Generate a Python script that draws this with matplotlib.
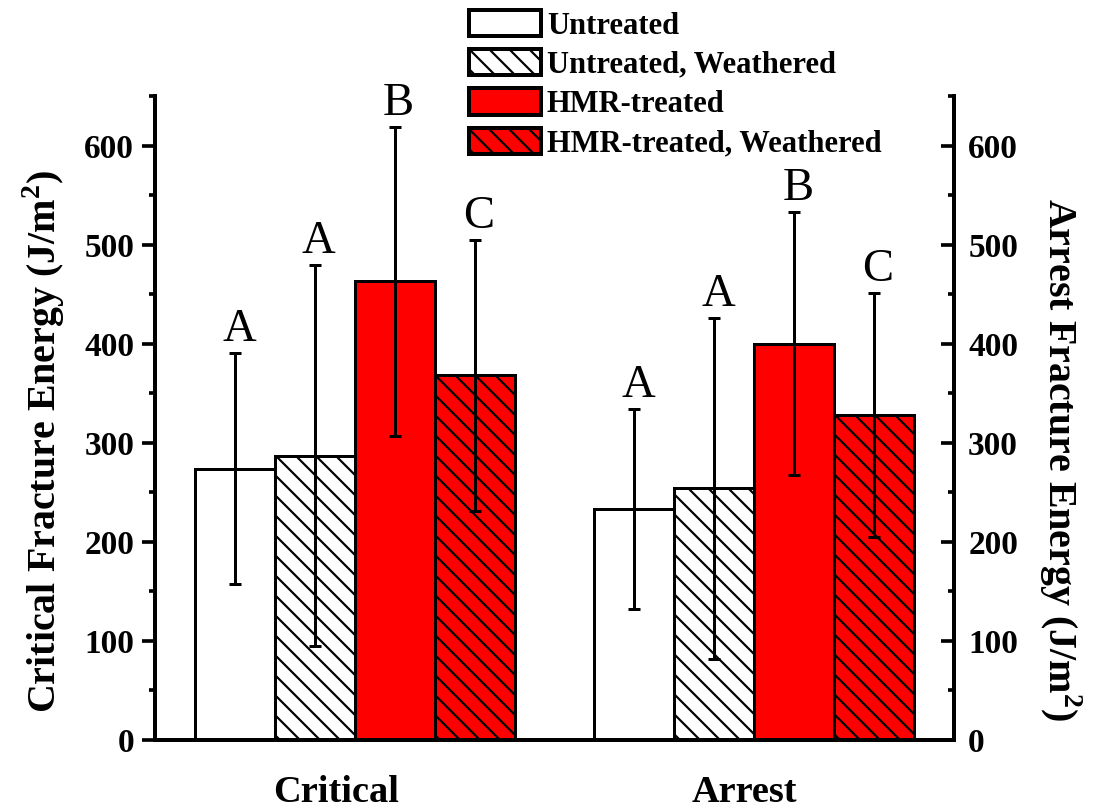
import matplotlib
matplotlib.use("Agg")
import matplotlib.pyplot as plt
import numpy as np

plt.rcParams['font.family'] = ['Liberation Serif', 'DejaVu Serif']
plt.rcParams['font.weight'] = 'bold'
plt.rcParams['mathtext.fontset'] = 'custom'
plt.rcParams['mathtext.rm'] = 'Liberation Serif'
plt.rcParams['mathtext.bf'] = 'Liberation Serif:bold'
plt.rcParams['hatch.linewidth'] = 1.3
plt.rcParams['hatch.color'] = 'black'

# data
groups = ['Critical', 'Arrest']
series = ['Untreated', 'Untreated, Weathered', 'HMR-treated', 'HMR-treated, Weathered']
means = {
    'Untreated': [274, 233],
    'Untreated, Weathered': [287, 254],
    'HMR-treated': [463, 400],
    'HMR-treated, Weathered': [368, 328],
}
errors = {
    'Untreated': [117, 101],
    'Untreated, Weathered': [192, 172],
    'HMR-treated': [156, 133],
    'HMR-treated, Weathered': [137, 123],
}
letters = {
    'Untreated': ['A', 'A'],
    'Untreated, Weathered': ['A', 'A'],
    'HMR-treated': ['B', 'B'],
    'HMR-treated, Weathered': ['C', 'C'],
}

colors = ['white', 'white', 'red', 'red']
hatches = ['', '\\\\', '', '\\\\']

fig = plt.figure(figsize=(1095 / 120, 809 / 120), dpi=120)
ax = fig.add_axes([155 / 1095, 1 - 740 / 809, 799 / 1095, 644 / 809])

x = np.arange(len(groups))
width = 0.2
offsets = [-1.5, -0.5, 0.5, 1.5]

for i, s in enumerate(series):
    pos = x + offsets[i] * width
    ax.bar(pos, means[s], width, color=colors[i], edgecolor='black',
           linewidth=1.8, hatch=hatches[i], label=s, zorder=2)
    ax.errorbar(pos, means[s], yerr=errors[s], fmt='none', ecolor='black',
                elinewidth=1.8, capsize=3.6, capthick=1.8, zorder=3)
    for j in range(len(groups)):
        ax.text(pos[j] + 0.01, means[s][j] + errors[s][j] + 2, letters[s][j],
                ha='center', va='bottom', fontsize=28, fontweight='normal', zorder=4)

ax.set_xlim(-0.5, 1.5)
ax.set_ylim(0, 650)
ax.set_yticks(np.arange(0, 601, 100))
ax.set_yticks(np.arange(50, 651, 100), minor=True)
ax.set_xticks([-0.0475, 0.975])
ax.set_xticklabels(groups, fontsize=23, fontweight='bold')
ax.tick_params(axis='x', length=0, pad=21)
ax.tick_params(axis='y', which='major', direction='out', length=8, width=2.2,
               labelsize=20, pad=4.5)
ax.tick_params(axis='y', which='minor', direction='out', length=3.5, width=2.2)
for sp in ['left', 'right', 'bottom']:
    ax.spines[sp].set_linewidth(2.4)
ax.spines['top'].set_visible(False)
ax.set_ylabel('Critical Fracture Energy (J/m$^\\mathbf{2}$)', fontsize=24,
              fontweight='bold', labelpad=10)
ax.yaxis.label.set_y(0.464)

ax2 = ax.twinx()
ax2.set_ylim(0, 650)
ax2.set_yticks(np.arange(0, 601, 100))
ax2.set_yticks(np.arange(50, 651, 100), minor=True)
ax2.tick_params(axis='y', which='major', direction='in', length=8, width=2.2,
                labelsize=20, pad=8.5)
ax2.tick_params(axis='y', which='minor', direction='in', length=3.5, width=2.2)
for sp in ['left', 'right', 'bottom']:
    ax2.spines[sp].set_linewidth(2.4)
ax2.spines['top'].set_visible(False)
ax2.set_ylabel('Arrest Fracture Energy (J/m$^\\mathbf{2}$)', fontsize=24,
               fontweight='bold', rotation=270, labelpad=39)
ax2.yaxis.label.set_y(0.436)

handles, labels = ax.get_legend_handles_labels()
leg = fig.legend(handles, labels, loc='upper left', bbox_to_anchor=(469 / 1095, 1 - 10 / 809),
                 frameon=False, fontsize=18.3, handlelength=2.35, handleheight=0.95,
                 handletextpad=0.2, labelspacing=0.28, borderpad=0, borderaxespad=0)
for h in leg.legend_handles:
    h.set_linewidth(2.4)

fig.savefig('out.png', dpi=120)
